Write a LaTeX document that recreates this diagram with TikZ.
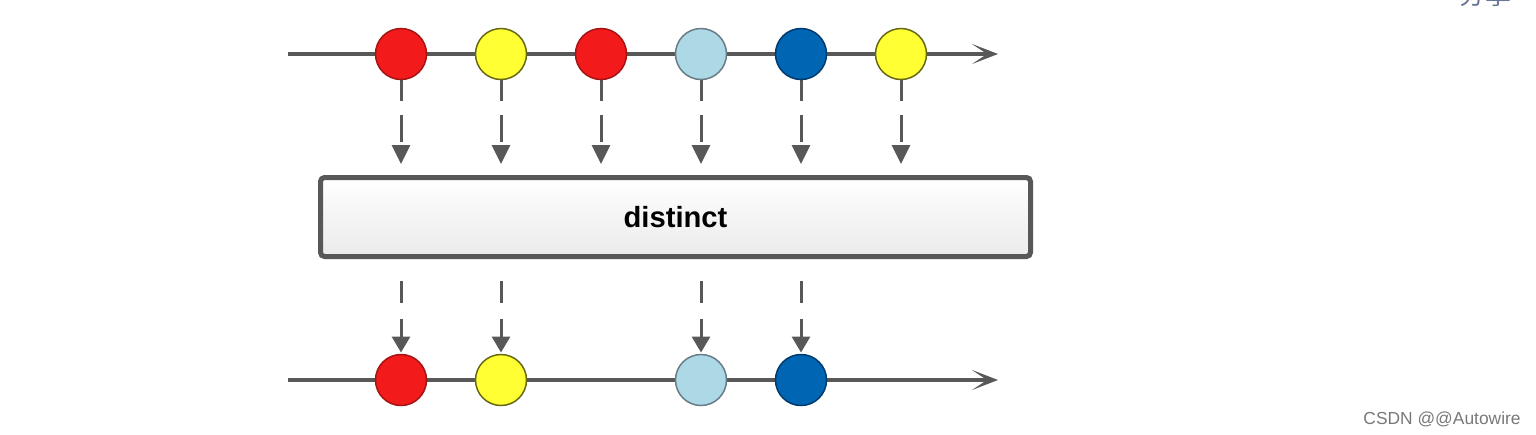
\documentclass[tikz,border=0pt]{standalone}
\usepackage{fontspec}
\setmainfont{Liberation Sans}
\newfontfamily\cjkfont{Noto Sans CJK SC}
\usetikzlibrary{arrows.meta}

\definecolor{linegray}{RGB}{88,88,88}
\definecolor{ballred}{RGB}{242,26,26}
\definecolor{ballredline}{RGB}{165,20,20}
\definecolor{ballyellow}{RGB}{255,255,51}
\definecolor{ballyellowline}{RGB}{105,105,20}
\definecolor{balllight}{RGB}{173,216,230}
\definecolor{balllightline}{RGB}{105,125,135}
\definecolor{ballblue}{RGB}{0,102,179}
\definecolor{ballblueline}{RGB}{0,58,110}
\definecolor{marktext}{RGB}{120,120,120}
\definecolor{sharetext}{RGB}{105,118,150}

\begin{document}
\begin{tikzpicture}[x=0.5pt,y=-0.5pt,
    timeline/.style={draw=linegray,line width=1.6pt,
      -{Stealth[length=13pt,width=10pt,inset=7.5pt,line width=0.9pt]}},
    ball/.style={circle,inner sep=0pt,minimum size=25.5pt,line width=0.75pt},
    redball/.style={ball,fill=ballred,draw=ballredline},
    yellowball/.style={ball,fill=ballyellow,draw=ballyellowline},
    lightball/.style={ball,fill=balllight,draw=balllightline},
    blueball/.style={ball,fill=ballblue,draw=ballblueline},
    feedin/.style={draw=linegray,line width=1.5pt,
      dash pattern=on 10.5pt off 7pt on 13.5pt off 7pt,
      -{Triangle[length=9.5pt,width=9pt]},shorten >=5.5pt},
    feedout/.style={draw=linegray,line width=1.5pt,
      dash pattern=on 11pt off 8pt on 40pt off 0pt,
      -{Triangle[length=8pt,width=9pt]},shorten <=11pt,shorten >=0.6pt},
    opbox/.style={rectangle,rounded corners=2pt,draw=linegray,line width=2.5pt,
      top color=white,bottom color=black!8,
      minimum width=355pt,minimum height=39.5pt,
      font=\fontsize{14.6}{17}\selectfont\bfseries}]
  \useasboundingbox (0,0) rectangle (1536,434);
  \clip (0,0) rectangle (1536,434);

  % Marking the ends of the timelines
  \coordinate (tstart) at (288,54);
  \coordinate (tend) at (998,54);
  \coordinate (bstart) at (288,380);
  \coordinate (bend) at (998,380);

  % Drawing timeline in
  \draw [timeline] (tstart) -- (tend);

  % Drawing timeline out
  \draw [timeline] (bstart) -- (bend);

  % Marking operator box
  \node [opbox] (distinct) at (675.5,217) {distinct};

  % Drawing feed arrows in
  \path (401,54) coordinate (p1) (501,54) coordinate (p2) (601,54) coordinate (p3)
        (701,54) coordinate (p4) (801,54) coordinate (p5) (901,54) coordinate (p6);
  \draw [feedin] (p1) ++(0,26) -- (p1 |- distinct.north);
  \draw [feedin] (p2) ++(0,26) -- (p2 |- distinct.north);
  \draw [feedin] (p3) ++(0,26) -- (p3 |- distinct.north);
  \draw [feedin] (p4) ++(0,26) -- (p4 |- distinct.north);
  \draw [feedin] (p5) ++(0,26) -- (p5 |- distinct.north);
  \draw [feedin] (p6) ++(0,26) -- (p6 |- distinct.north);

  % Marking items in
  \node [redball] (t1) at (p1) {};
  \node [yellowball] (t2) at (p2) {};
  \node [redball] (t3) at (p3) {};
  \node [lightball] (t4) at (p4) {};
  \node [blueball] (t5) at (p5) {};
  \node [yellowball] (t6) at (p6) {};

  % Marking items out
  \node [redball] (b1) at (401,380) {};
  \node [yellowball] (b2) at (501,380) {};
  \node [lightball] (b3) at (701,380) {};
  \node [blueball] (b4) at (801,380) {};

  % Drawing feed arrows out
  \draw [feedout] (distinct.south -| b1) -- (b1.north);
  \draw [feedout] (distinct.south -| b2) -- (b2.north);
  \draw [feedout] (distinct.south -| b3) -- (b3.north);
  \draw [feedout] (distinct.south -| b4) -- (b4.north);

  % Marking page texts
  \node [anchor=base west,inner sep=0pt,text=sharetext,
    font=\cjkfont\fontsize{13}{15}\selectfont] (share) at (1459,4) {分享};
  \node [anchor=base east,inner sep=0pt,text=marktext,
    font=\fontsize{8.7}{10}\selectfont] (mark) at (1521,424) {CSDN @@Autowire};
\end{tikzpicture}
\end{document}
